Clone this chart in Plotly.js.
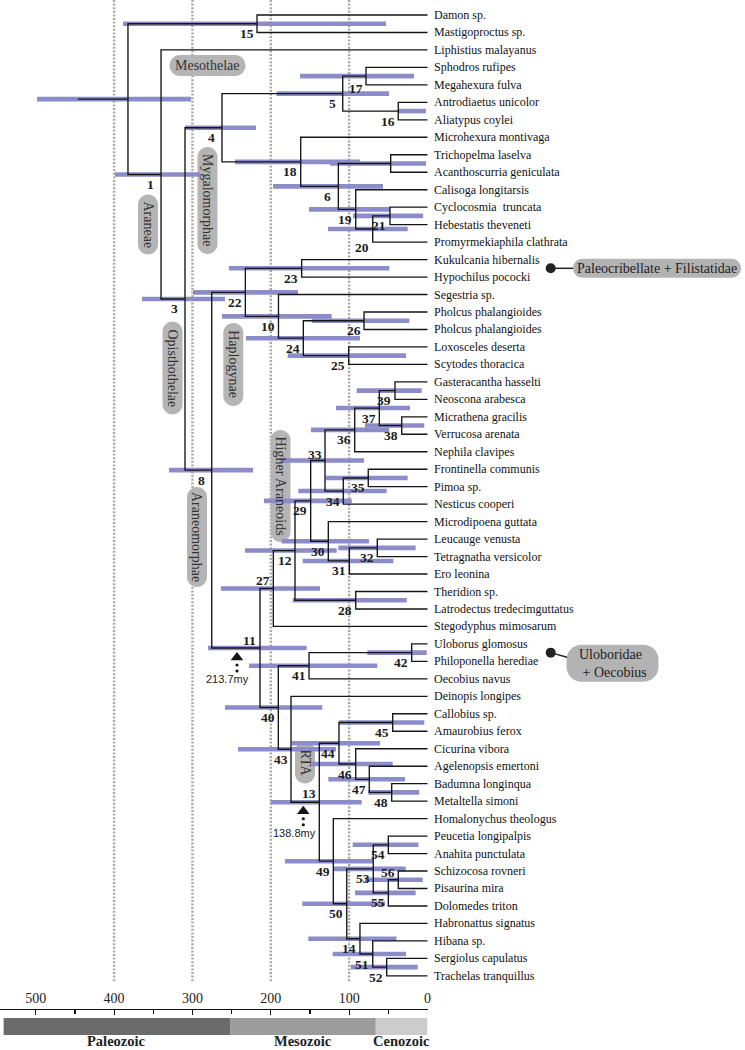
<!DOCTYPE html>
<html><head><meta charset="utf-8">
<script src="https://cdn.plot.ly/plotly-3.0.1.min.js"></script>
<style>html,body{margin:0;padding:0;background:#fff}</style>
</head><body>
<div id="chart" style="width:745px;height:1050px"></div>
<script>
// ---------------- DATA ----------------
const taxa = [
 "Damon sp.","Mastigoproctus sp.","Liphistius malayanus","Sphodros rufipes","Megahexura fulva",
 "Antrodiaetus unicolor","Aliatypus coylei","Microhexura montivaga","Trichopelma laselva","Acanthoscurria geniculata",
 "Calisoga longitarsis","Cyclocosmia\u00a0 truncata","Hebestatis theveneti","Promyrmekiaphila clathrata","Kukulcania hibernalis",
 "Hypochilus pococki","Segestria sp.","Pholcus phalangioides","Pholcus phalangioides","Loxosceles deserta",
 "Scytodes thoracica","Gasteracantha hasselti","Neoscona arabesca","Micrathena gracilis","Verrucosa arenata",
 "Nephila clavipes","Frontinella communis","Pimoa sp.","Nesticus cooperi","Microdipoena guttata",
 "Leucauge venusta","Tetragnatha versicolor","Ero leonina","Theridion sp.","Latrodectus tredecimguttatus",
 "Stegodyphus mimosarum","Uloborus glomosus","Philoponella herediae","Oecobius navus","Deinopis longipes",
 "Callobius sp.","Amaurobius ferox","Cicurina vibora","Agelenopsis emertoni","Badumna longinqua",
 "Metaltella simoni","Homalonychus theologus","Peucetia longipalpis","Anahita punctulata","Schizocosa rovneri",
 "Pisaurina mira","Dolomedes triton","Habronattus signatus","Hibana sp.","Sergiolus capulatus",
 "Trachelas tranquillus"
];

// internal nodes (children: number = taxon index, string = node key)
const nodeKeys   = ["R","n15","n1","n3","n4","n5","n17","n16","n18","n6","n7","n19","n20","n21","n8","n22","n23","n10","n24","n26","n25","n11","n27","n12","n29","n33","n36","n37","n39","n38","n34","n35","n30","n31","n32","n28","n40","n41","n42","n43","n13","n44","n45","n46","n47","n48","n49","n50","n53","n54","n55","n56","n14","n51","n52"];
const nodeLabels = ["","15","1","3","4","5","17","16","18","6","","19","20","21","8","22","23","10","24","26","25","11","27","12","29","33","36","37","39","38","34","35","30","31","32","28","40","41","42","43","13","44","45","46","47","48","49","50","53","54","55","56","14","51","52"];
const nodeAges   = [382.3,217.6,340.1,309.5,262.3,108.2,78.5,37.3,161.8,113.8,47.0,91.6,69.9,47.9,275.4,232.5,160.6,190.2,158.5,81.0,100.6,213.8,196.8,169.1,149.1,130.8,92.9,61.5,41.5,32.9,107.5,75.6,126.6,99.8,64.1,91.6,190.4,151.2,20.2,174.2,138.1,113.0,44.4,91.6,74.3,45.7,120.2,103.1,69.2,50.0,50.0,37.3,86.2,69.9,52.1];
const childA     = ["n15",0,2,"n4","n5","n17",3,5,7,"n7",8,10,"n21",11,"n22","n23",14,16,"n26",17,19,"n27","n12","n29","n33","n36","n37","n39",21,23,"n35",26,29,"n32",30,33,"n41","n42",36,39,"n44","n45",40,42,43,44,46,"n53","n54",47,"n56",49,52,53,54];
const childB     = ["n1",1,"n3","n8","n18","n16",4,6,"n6","n19",9,"n20",13,12,"n11","n10",15,"n24","n25",18,20,"n40",35,"n28","n30","n34",25,"n38",22,24,28,27,"n31",32,31,34,"n43",38,37,"n13","n49","n46",41,"n47","n48",45,"n50","n14","n55",48,51,50,"n51","n52",55];
const ciOld      = [498.4,388.6,398.9,364.4,309.5,192.5,162.7,38.0,245.7,197.2,124.4,151.2,127.0,95.1,329.9,299.3,253.4,262.3,231.7,147.8,178.4,280.2,263.6,232.9,208.7,188.3,148.7,116.8,90.4,79.8,164.9,129.9,186.1,159.3,113.8,172.0,258.5,227.8,76.8,241.9,200.1,173.3,113.0,147.8,126.6,75.6,181.9,159.8,119.3,95.5,92.5,79.8,152.1,121.0,98.0];
const ciYoung    = [301.9,53.0,290.4,258.5,218.9,49.1,17.2,1.9,86.2,56.8,1.9,47.9,25.3,5.7,222.7,165.3,48.8,122.3,86.2,23.2,27.4,154.2,137.2,115.9,96.7,81.0,48.8,22.3,7.4,4.1,52.1,25.3,74.7,43.6,15.1,26.5,134.3,64.1,1.0,116.8,84.0,60.6,4.1,44.4,28.7,10.5,69.2,54.2,27.8,11.7,15.1,6.1,39.6,27.4,12.5];
const rootStemAge = 446.1;

const calibNodes = ["n11","n13"];
const calibAges  = [213.7, 138.8];

const guideAges = [400,300,200,100];
const tickAges  = [500,400,300,200,100,0];
const eraNames  = ["Paleozoic","Mesozoic","Cenozoic"];
const eraStart  = [541,252,66];
const eraEnd    = [252,66,0];

// ---------------- LAYOUT HELPERS ----------------
const W=745, H=1050;
const X_RANGE=[545.63,-405.23];
const Y_RANGE=[59.245,-0.8586];
const pxPerMy  = W/(X_RANGE[0]-X_RANGE[1]);
const pxPerRow = H/(Y_RANGE[0]-Y_RANGE[1]);
const ageAtPx = px => X_RANGE[0]-px/pxPerMy;
const rowAtPx = py => Y_RANGE[1]+py/pxPerRow;
const paperY  = py => 1-py/H;

const idx={}; nodeKeys.forEach((k,i)=>idx[k]=i);
const memo={};
function yOf(c){ return typeof c==="number" ? c : nodeY(c); }
function ageOf(c){ return typeof c==="number" ? 0 : nodeAges[idx[c]]; }
function nodeY(k){
  if(memo[k]!==undefined) return memo[k];
  const i=idx[k]; const v=(yOf(childA[i])+yOf(childB[i]))/2; memo[k]=v; return v;
}

// tree lines
const lx=[], ly=[];
nodeKeys.forEach((k,i)=>{
  const a=childA[i], b=childB[i];
  lx.push(ageOf(a),nodeAges[i],nodeAges[i],ageOf(b),null);
  ly.push(yOf(a),yOf(a),yOf(b),yOf(b),null);
});
lx.push(rootStemAge,nodeAges[idx.R],null); ly.push(nodeY("R"),nodeY("R"),null);

// CI bars
const bx=[], by=[];
nodeKeys.forEach((k,i)=>{ bx.push(ciOld[i],ciYoung[i],null); by.push(nodeY(k),nodeY(k),null); });

const SERIF="Liberation Serif, Times New Roman, serif";
const BAR_COLOR="rgb(140,140,202)";
const data=[];
data.push({type:"scatter",mode:"lines",x:bx,y:by,line:{color:BAR_COLOR,width:4.6},hoverinfo:"skip",showlegend:false});
data.push({type:"scatter",mode:"lines",x:lx,y:ly,line:{color:"#151515",width:1.35},hoverinfo:"skip",showlegend:false});

// era bar
data.push({type:"bar",orientation:"h",xaxis:"x2",yaxis:"y2",y:eraNames.map(()=>0),base:eraEnd,
  x:eraStart.map((s,i)=>s-eraEnd[i]),width:1,marker:{color:["#6b6b6b","#9c9c9c","#cccccc"],line:{width:0}},
  hoverinfo:"skip",showlegend:false});

const annotations=[], shapes=[];

// guide lines
guideAges.forEach(g=>shapes.push({type:"line",xref:"x",yref:"y",x0:g,x1:g,y0:rowAtPx(0),y1:rowAtPx(982),
  line:{color:"#a9a9a2",width:2.4,dash:"2px,1.6px"},layer:"below"}));

// rounded box path
function rr(w,h,r){
  const x0=-w/2,x1=w/2,y0=-h/2,y1=h/2,k=0.5523*r;
  const f=v=>v.toFixed(2);
  return `M${f(x0+r)},${f(y0)} L${f(x1-r)},${f(y0)} C${f(x1-r+k)},${f(y0)} ${f(x1)},${f(y0+r-k)} ${f(x1)},${f(y0+r)} `+
         `L${f(x1)},${f(y1-r)} C${f(x1)},${f(y1-r+k)} ${f(x1-r+k)},${f(y1)} ${f(x1-r)},${f(y1)} `+
         `L${f(x0+r)},${f(y1)} C${f(x0+r-k)},${f(y1)} ${f(x0)},${f(y1-r+k)} ${f(x0)},${f(y1-r)} `+
         `L${f(x0)},${f(y0+r)} C${f(x0)},${f(y0+r-k)} ${f(x0+r-k)},${f(y0)} ${f(x0+r)},${f(y0)} Z`;
}
function box(cxAge,cyRow,w,h,r,color){
  shapes.push({type:"path",xref:"x",yref:"y",xsizemode:"pixel",ysizemode:"pixel",xanchor:cxAge,yanchor:cyRow,
    path:rr(w,h,r),fillcolor:color,line:{width:0},layer:"below"});
}

// clade boxes (pixel placement)
const cladeBoxes=[
 {t:"Mesothelae",cx:207.5,cy:65.5,w:76,h:21,rot:0},
 {t:"Araneae",cx:148,cy:224.5,w:20,h:60,rot:90},
 {t:"Mygalomorphae",cx:207.5,cy:200.5,w:20,h:107,rot:90},
 {t:"Opisthothelae",cx:172.5,cy:368,w:20,h:93,rot:90},
 {t:"Haplogynae",cx:233.3,cy:364.5,w:20,h:83,rot:90},
 {t:"Araneomorphae",cx:197,cy:537,w:20,h:100,rot:90},
 {t:"Higher Araneoids",cx:280.5,cy:486,w:20,h:112,rot:90},
 {t:"RTA",cx:305,cy:762.5,w:20,h:42,rot:90}
];
cladeBoxes.forEach(c=>{
  box(ageAtPx(c.cx),rowAtPx(c.cy),c.w,c.h,Math.min(c.w,c.h)/2,"#b5b5b5");
  annotations.push({x:ageAtPx(c.cx),y:rowAtPx(c.cy),xref:"x",yref:"y",text:c.t,showarrow:false,textangle:c.rot,
    font:{family:SERIF,size:14,color:"#333"},xanchor:"center",yanchor:"middle"});
});

// taxon labels
taxa.forEach((t,i)=>annotations.push({x:0,y:i,xref:"x",yref:"y",text:t,showarrow:false,xanchor:"left",yanchor:"middle",
  xshift:4,font:{family:SERIF,size:12,color:"#111"}}));

// node labels
const labelDy={"11":-8,"13":-9,"27":-8,"33":-6,"56":-7,"20":18,"17":12};
nodeKeys.forEach((k,i)=>{
  if(!nodeLabels[i]) return;
  const dy = labelDy[nodeLabels[i]]!==undefined ? labelDy[nodeLabels[i]] : 10;
  annotations.push({x:nodeAges[i],y:nodeY(k),xref:"x",yref:"y",text:"<b>"+nodeLabels[i]+"</b>",showarrow:false,
    xanchor:"center",yanchor:"middle",xshift:-10.5,yshift:-dy,font:{family:SERIF,size:13.5,color:"#1a1a1a"}});
});

// calibration markers
const calibDx=[-23,-16], calibDy=[9.5,9];
const tx=[],ty=[],dx=[],dy=[];
calibNodes.forEach((k,i)=>{
  const ax=nodeAges[idx[k]]-calibDx[i]/pxPerMy;
  const ay=nodeY(k)+calibDy[i]/pxPerRow;
  tx.push(ax); ty.push(ay);
  dx.push(ax,ax); dy.push(ay+7.5/pxPerRow, ay+13.5/pxPerRow);
  annotations.push({x:ax,y:ay+21.5/pxPerRow,xref:"x",yref:"y",text:calibAges[i]+"my",showarrow:false,xanchor:"center",
    yanchor:"middle",xshift:-9,font:{family:"Liberation Sans, Arial, sans-serif",size:11,color:"#222"}});
});
data.push({type:"scatter",mode:"markers",x:tx,y:ty,marker:{symbol:"triangle-up",size:11,color:"#151515"},hoverinfo:"skip",showlegend:false});
data.push({type:"scatter",mode:"markers",x:dx,y:dy,marker:{symbol:"circle",size:3.2,color:"#151515"},hoverinfo:"skip",showlegend:false});

// right-side group callouts
const callouts=[
 {node:"n23",text:"Paleocribellate + Filistatidae",dot:550.7,lineTo:[573,0],cx:657,cyOff:0,w:168,h:19,r:9.5},
 {node:"n42",text:"Uloboridae<br> + Oecobius",dot:550.7,lineTo:[567,4.6],cx:612.5,cyOff:10.7,w:92,h:37,r:15}
];
const cdx=[],cdy=[],clx=[],cly=[];
callouts.forEach(c=>{
  const y=nodeY(c.node);
  cdx.push(ageAtPx(c.dot)); cdy.push(y);
  clx.push(ageAtPx(c.dot),ageAtPx(c.lineTo[0]),null); cly.push(y,y+c.lineTo[1]/pxPerRow,null);
  box(ageAtPx(c.cx),y+c.cyOff/pxPerRow,c.w,c.h,c.r,"#b3b3b3");
  annotations.push({x:ageAtPx(c.cx),y:y+c.cyOff/pxPerRow,xref:"x",yref:"y",text:c.text,showarrow:false,align:"left",
    xanchor:"center",yanchor:"middle",font:{family:SERIF,size:14,color:"#222"}});
});
data.push({type:"scatter",mode:"lines",x:clx,y:cly,line:{color:"#222",width:1.5},hoverinfo:"skip",showlegend:false});
data.push({type:"scatter",mode:"markers",x:cdx,y:cdy,marker:{size:10,color:"#222"},hoverinfo:"skip",showlegend:false});

// era labels
eraNames.forEach((n,i)=>annotations.push({x:(eraStart[i]+eraEnd[i])/2,y:0,xref:"x2",yref:"paper",text:"<b>"+n+"</b>",
  showarrow:false,xanchor:"center",yanchor:"bottom",borderpad:0,font:{family:SERIF,size:14.5,color:"#222"}}));

const layout={
  width:W,height:H,margin:{l:0,r:0,t:0,b:0},paper_bgcolor:"#fff",plot_bgcolor:"rgba(0,0,0,0)",
  showlegend:false,barmode:"overlay",
  xaxis:{domain:[0,1],range:X_RANGE,visible:false,fixedrange:true},
  yaxis:{domain:[0,1],range:Y_RANGE,visible:false,fixedrange:true},
  xaxis2:{domain:[0,427.5/W],range:[X_RANGE[0],0],anchor:"free",position:paperY(1009),side:"top",
    showline:true,linecolor:"#111",linewidth:1.3,ticks:"inside",ticklen:5,tickwidth:1.2,tickcolor:"#111",
    tickmode:"array",tickvals:tickAges,ticktext:tickAges.map(String),showgrid:false,zeroline:false,
    tickfont:{family:SERIF,size:14,color:"#222"},
    minor:{dtick:50,tick0:0,ticks:"inside",ticklen:4,tickcolor:"#111",showgrid:false}},
  yaxis2:{domain:[paperY(1035),paperY(1018)],range:[-0.5,0.5],anchor:"x2",visible:false,fixedrange:true},
  shapes:shapes,annotations:annotations
};
Plotly.newPlot("chart",data,layout,{staticPlot:true,displayModeBar:false});
</script>
</body></html>
